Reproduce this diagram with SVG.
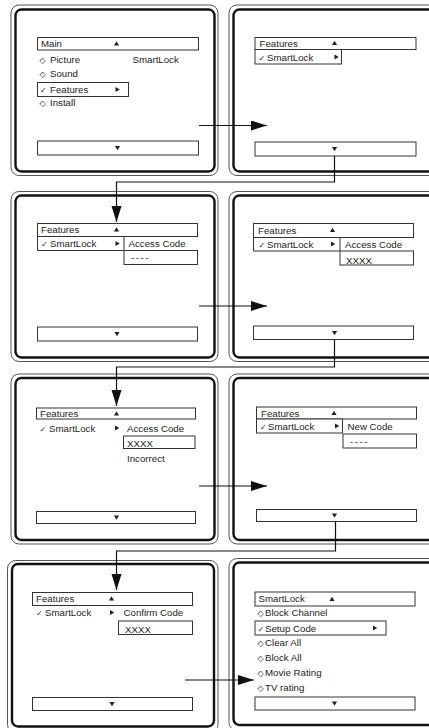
<svg xmlns="http://www.w3.org/2000/svg" width="429" height="728" viewBox="0 0 429 728">
<style>
.bg{fill:#fff}
.po{fill:none;stroke:#555;stroke-width:1}
.pi{fill:none;stroke:#111;stroke-width:2.4}
.bx{fill:#fff;stroke:#333;stroke-width:1}
.t{font-family:"Liberation Sans",Arial,sans-serif;font-size:9.7px;fill:#222}
.s{font-family:"DejaVu Sans",sans-serif;font-size:8px;fill:#222}
.ic{fill:#222}
.cn{fill:none;stroke:#111;stroke-width:1.2}
</style>
<defs>
<path id="up" d="M-2.6,2 L2.6,2 L0,-2.2 z"/>
<path id="dn" d="M-2.6,-2 L2.6,-2 L0,2.2 z"/>
<path id="rt" d="M-2,-2.6 L-2,2.6 L2.3,0 z"/>
<marker id="ah" markerUnits="userSpaceOnUse" markerWidth="17" markerHeight="11" refX="16" refY="5" orient="auto">
<path d="M0,0 L16,5 L0,10 z" fill="#111"/>
</marker>
</defs>
<rect class="bg" x="0" y="0" width="429" height="728"/>

<g id="p1">
<rect class="po" x="11" y="5" width="207" height="170.5" rx="8"/>
<rect class="pi" x="15.5" y="9.5" width="199" height="162" rx="6"/>
<rect class="bx" x="37.5" y="37.5" width="161" height="12.5"/>
<text class="t" x="41" y="47">Main</text>
<use href="#up" class="ic" x="116.5" y="43.5"/>
<text class="s" x="39.5" y="63">◇</text><text class="t" x="50" y="63">Picture</text>
<text class="t" x="132.5" y="63">SmartLock</text>
<text class="s" x="39.5" y="76.5">◇</text><text class="t" x="50" y="76.5">Sound</text>
<rect class="bx" x="37.5" y="82.5" width="91" height="14"/>
<text class="s" x="40" y="93">✓</text><text class="t" x="50" y="93">Features</text>
<use href="#rt" class="ic" x="117.5" y="89.5"/>
<text class="s" x="39.5" y="106">◇</text><text class="t" x="50" y="106">Install</text>
<rect class="bx" x="37.5" y="141" width="161" height="14"/>
<use href="#dn" class="ic" x="117.5" y="148"/>
</g>

<g id="p2">
<rect class="po" x="229" y="5" width="220" height="170.5" rx="8"/>
<rect class="pi" x="233.5" y="9.5" width="210" height="162" rx="6"/>
<rect class="bx" x="255" y="37.5" width="161" height="12"/>
<text class="t" x="259.5" y="47">Features</text>
<use href="#up" class="ic" x="334.5" y="43"/>
<rect class="bx" x="255" y="49.5" width="86.5" height="14.5"/>
<text class="s" x="258.5" y="60.5">✓</text><text class="t" x="267" y="60.5">SmartLock</text>
<use href="#rt" class="ic" x="336.5" y="57"/>
<rect class="bx" x="255" y="142" width="161" height="14"/>
<use href="#dn" class="ic" x="334.5" y="149"/>
</g>

<g id="p3">
<rect class="po" x="11" y="191.5" width="207" height="170" rx="8"/>
<rect class="pi" x="15.5" y="195.5" width="199" height="162" rx="6"/>
<rect class="bx" x="37.5" y="223.5" width="160" height="13"/>
<text class="t" x="41" y="233">Features</text>
<use href="#up" class="ic" x="116.5" y="229.5"/>
<rect class="bx" x="37.5" y="236.5" width="86.5" height="14"/>
<text class="s" x="41" y="247">✓</text><text class="t" x="50" y="247">SmartLock</text>
<use href="#rt" class="ic" x="117.5" y="243.5"/>
<text class="t" x="128.5" y="247">Access Code</text>
<rect class="bx" x="124" y="250.5" width="73.5" height="14"/>
<text class="t" x="131" y="261" letter-spacing="1.5">----</text>
<rect class="bx" x="37.5" y="327" width="160" height="14"/>
<use href="#dn" class="ic" x="117" y="334"/>
</g>

<g id="p4">
<rect class="po" x="229" y="191.5" width="220" height="170" rx="8"/>
<rect class="pi" x="233.5" y="195.5" width="210" height="162" rx="6"/>
<rect class="bx" x="253.5" y="223.5" width="160" height="14"/>
<text class="t" x="258" y="233.5">Features</text>
<use href="#up" class="ic" x="332.5" y="230"/>
<rect class="bx" x="253.5" y="237.5" width="86.5" height="13.5"/>
<text class="s" x="258.5" y="248">✓</text><text class="t" x="267" y="248">SmartLock</text>
<use href="#rt" class="ic" x="333" y="244"/>
<text class="t" x="345" y="248">Access Code</text>
<rect class="bx" x="340" y="251" width="73.5" height="14"/>
<text class="t" x="346" y="264">XXXX</text>
<rect class="bx" x="253.5" y="326" width="160" height="13.5"/>
<use href="#dn" class="ic" x="334.5" y="333"/>
</g>

<g id="p5">
<rect class="po" x="11" y="374" width="207" height="170" rx="8"/>
<rect class="pi" x="15.5" y="378" width="199" height="162" rx="6"/>
<rect class="bx" x="36.5" y="408" width="159" height="11"/>
<text class="t" x="40" y="416.5">Features</text>
<use href="#up" class="ic" x="116.5" y="413.5"/>
<text class="s" x="39.5" y="431.5">✓</text><text class="t" x="49" y="431.5">SmartLock</text>
<use href="#rt" class="ic" x="117" y="428"/>
<text class="t" x="127" y="431.5">Access Code</text>
<rect class="bx" x="123.5" y="436" width="71.5" height="12.5"/>
<text class="t" x="127" y="447">XXXX</text>
<text class="t" x="127" y="461.5">Incorrect</text>
<rect class="bx" x="36.5" y="511.5" width="159" height="12"/>
<use href="#dn" class="ic" x="116.5" y="517.5"/>
</g>

<g id="p6">
<rect class="po" x="229" y="374" width="220" height="170" rx="8"/>
<rect class="pi" x="233.5" y="378" width="210" height="162" rx="6"/>
<rect class="bx" x="256.5" y="407" width="160" height="12"/>
<text class="t" x="261" y="416.5">Features</text>
<use href="#up" class="ic" x="334" y="413"/>
<rect class="bx" x="256.5" y="419" width="86" height="14"/>
<text class="s" x="260" y="430">✓</text><text class="t" x="268" y="430">SmartLock</text>
<use href="#rt" class="ic" x="337" y="426"/>
<text class="t" x="347.5" y="430">New Code</text>
<rect class="bx" x="343" y="434" width="73.5" height="14"/>
<text class="t" x="350" y="444.5" letter-spacing="1.5">----</text>
<rect class="bx" x="256.5" y="509.5" width="160" height="12"/>
<use href="#dn" class="ic" x="334.5" y="515.5"/>
</g>

<g id="p7">
<rect class="po" x="7.5" y="560.5" width="210.5" height="172" rx="8"/>
<rect class="pi" x="12" y="564" width="202" height="162.5" rx="6"/>
<rect class="bx" x="32.5" y="592.5" width="160" height="13"/>
<text class="t" x="36" y="602">Features</text>
<use href="#up" class="ic" x="111.5" y="598.5"/>
<text class="s" x="36" y="616">✓</text><text class="t" x="45" y="616">SmartLock</text>
<use href="#rt" class="ic" x="112" y="612.5"/>
<text class="t" x="123.5" y="616">Confirm Code</text>
<rect class="bx" x="118.5" y="621" width="74" height="13.5"/>
<text class="t" x="125" y="633">XXXX</text>
<rect class="bx" x="32.5" y="697.5" width="160" height="13"/>
<use href="#dn" class="ic" x="112" y="704"/>
</g>

<g id="p8">
<rect class="po" x="229" y="558.5" width="220" height="172" rx="8"/>
<rect class="pi" x="233.5" y="562.5" width="210" height="162.5" rx="6"/>
<rect class="bx" x="255" y="592" width="160" height="14"/>
<text class="t" x="258.5" y="602">SmartLock</text>
<use href="#up" class="ic" x="332" y="599"/>
<text class="s" x="257.5" y="616">◇</text><text class="t" x="265" y="616">Block Channel</text>
<rect class="bx" x="255" y="621" width="131" height="14"/>
<text class="s" x="257.5" y="631.5">✓</text><text class="t" x="265" y="631.5">Setup Code</text>
<use href="#rt" class="ic" x="375" y="628"/>
<text class="s" x="257.5" y="646">◇</text><text class="t" x="265" y="646">Clear All</text>
<text class="s" x="257.5" y="660.5">◇</text><text class="t" x="265" y="660.5">Block All</text>
<text class="s" x="257.5" y="676">◇</text><text class="t" x="265" y="676">Movie Rating</text>
<text class="s" x="257.5" y="690.5">◇</text><text class="t" x="265" y="690.5">TV rating</text>
<rect class="bx" x="255" y="697" width="160" height="13"/>
<use href="#dn" class="ic" x="334.5" y="703.5"/>
</g>

<g id="connectors">
<path class="cn" d="M199,125.5 H267" marker-end="url(#ah)"/>
<path class="cn" d="M334.5,156 V182 H116.5 V222" marker-end="url(#ah)"/>
<path class="cn" d="M199,306 H267" marker-end="url(#ah)"/>
<path class="cn" d="M334.5,339.5 V367 H116.5 V406" marker-end="url(#ah)"/>
<path class="cn" d="M199,486 H267" marker-end="url(#ah)"/>
<path class="cn" d="M335.5,521.5 V551 H116.5 V590" marker-end="url(#ah)"/>
<path class="cn" d="M185,680 H254" marker-end="url(#ah)"/>
</g>
</svg>
